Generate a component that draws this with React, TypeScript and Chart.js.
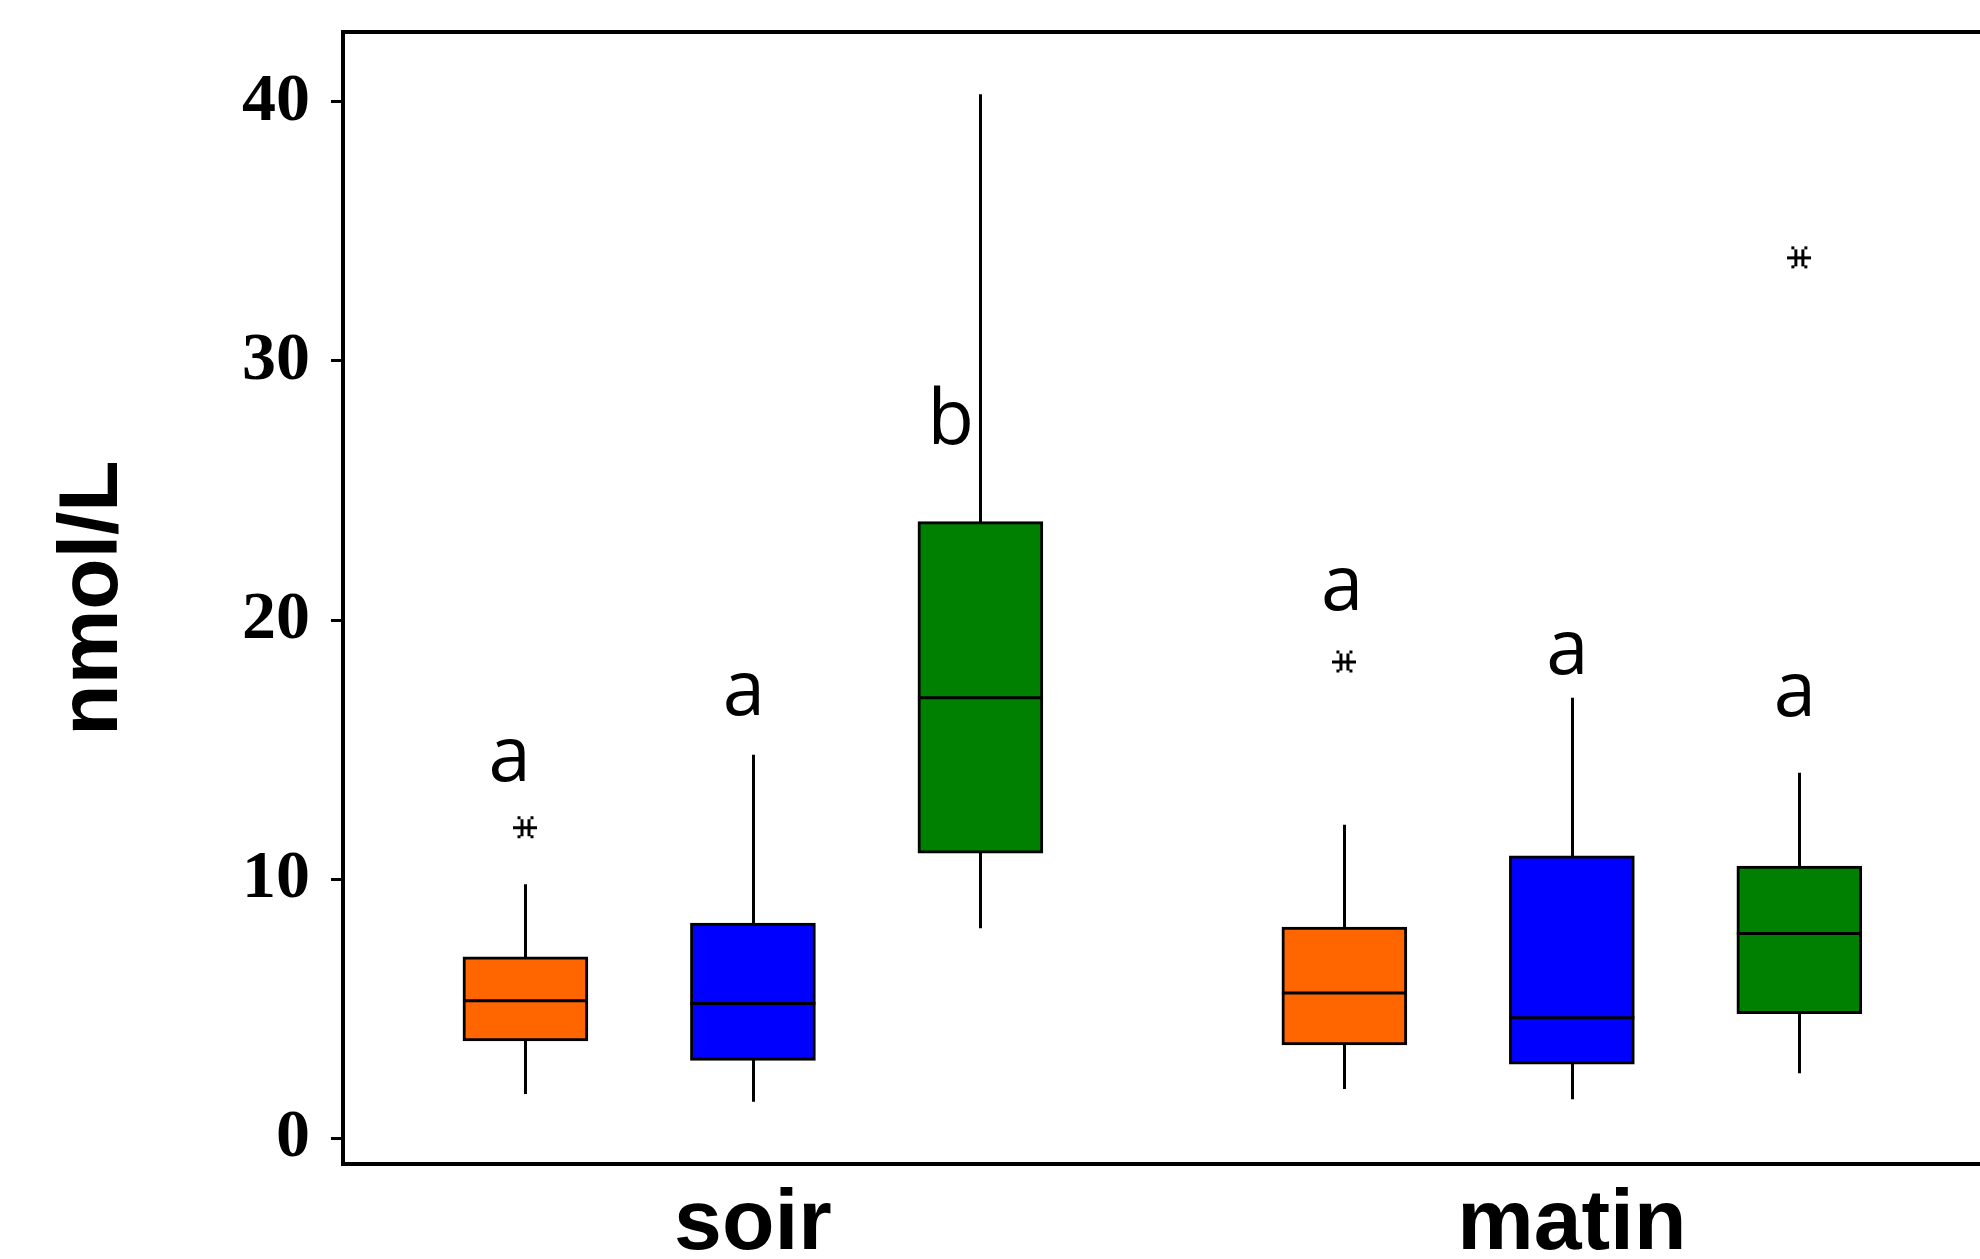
import React, { useEffect, useRef } from 'react';
import { Chart, registerables } from 'chart.js';

Chart.register(...registerables);

// ---- data ----
const categories = ['soir', 'matin'];
const groupCenters = [2, 5.6];
const boxPositions = [1, 2, 3, 4.6, 5.6, 6.6];
const boxColors = ['#FF6600', '#0000FF', '#008000', '#FF6600', '#0000FF', '#008000'];
const whiskerLow = [1.7, 1.4, 8.1, 1.9, 1.5, 2.5];
const quartile1 = [3.75, 3.0, 11.0, 3.6, 2.85, 4.8];
const medians = [5.3, 5.2, 17.0, 5.6, 4.65, 7.9];
const quartile3 = [7.0, 8.3, 23.8, 8.15, 10.9, 10.5];
const whiskerHigh = [9.8, 14.8, 40.3, 12.1, 17.0, 14.1];
const outlierX = [1, 4.6, 6.6];
const outlierY = [12.0, 18.4, 34.0];
const letters = ['a', 'a', 'b', 'a', 'a', 'a'];
const letterX = [0.93, 1.96, 2.87, 4.59, 5.58, 6.58];
const letterY = [13.8, 16.35, 26.8, 20.4, 17.9, 16.3];
const yTicks = [0, 10, 20, 30, 40];
const yTitle = 'nmol/L';
const yMin = -1;
const yMax = 42.7;
const xMin = 0.198;
const xMax = 7.337;

function makeOutlierMarker(): HTMLCanvasElement {
  const c = document.createElement('canvas');
  c.width = 24;
  c.height = 24;
  const g = c.getContext('2d')!;
  g.fillStyle = '#000';
  g.fillRect(0, 11, 24, 3);
  g.fillRect(7, 4, 3, 17);
  g.fillRect(14, 4, 3, 17);
  g.fillRect(4, 1, 3, 3);
  g.fillRect(17, 1, 3, 3);
  g.fillRect(4, 20, 3, 3);
  g.fillRect(17, 20, 3, 3);
  return c;
}

const boxExtras = {
  id: 'boxExtras',
  beforeDatasetsDraw(chart: any) {
    const { ctx, scales } = chart;
    const x = scales.x;
    const y = scales.y;
    ctx.save();
    ctx.strokeStyle = '#000';
    ctx.lineWidth = 3;
    boxPositions.forEach((p, i) => {
      const px = Math.round(x.getPixelForValue(p)) + 0.5;
      ctx.beginPath();
      ctx.moveTo(px, y.getPixelForValue(whiskerLow[i]));
      ctx.lineTo(px, y.getPixelForValue(whiskerHigh[i]));
      ctx.stroke();
    });
    ctx.restore();
  },
  afterDatasetsDraw(chart: any) {
    const { ctx, scales, chartArea } = chart;
    const x = scales.x;
    const y = scales.y;
    const meta = chart.getDatasetMeta(0);
    ctx.save();
    ctx.strokeStyle = '#000';
    ctx.lineWidth = 3;
    meta.data.forEach((bar: any, i: number) => {
      const { x: cx, width } = bar.getProps(['x', 'width'], true);
      const py = y.getPixelForValue(medians[i]);
      ctx.beginPath();
      ctx.moveTo(cx - width / 2, py);
      ctx.lineTo(cx + width / 2, py);
      ctx.stroke();
    });
    // top and bottom frame lines run off the right edge
    ctx.lineWidth = 4;
    ctx.beginPath();
    ctx.moveTo(chartArea.left - 2, chartArea.top);
    ctx.lineTo(chart.width, chartArea.top);
    ctx.moveTo(chartArea.left - 2, chartArea.bottom);
    ctx.lineTo(chart.width, chartArea.bottom);
    ctx.stroke();
    // significance letters
    ctx.fillStyle = '#000';
    ctx.font = '76px "Open Sans"';
    ctx.textAlign = 'center';
    ctx.textBaseline = 'alphabetic';
    letters.forEach((t, i) => {
      ctx.fillText(t, x.getPixelForValue(letterX[i]), y.getPixelForValue(letterY[i]));
    });
    ctx.restore();
  },
};

export default function App() {
  const ref = useRef<HTMLCanvasElement>(null);
  useEffect(() => {
    document.body.style.margin = '0';
    const canvas = ref.current!;
    const marker = makeOutlierMarker();
    const chart = new Chart(canvas, {
      type: 'bar',
      data: {
        datasets: [
          {
            type: 'bar',
            data: boxPositions.map((p, i) => ({ x: p, y: [quartile1[i], quartile3[i]] })) as any,
            backgroundColor: boxColors,
            borderColor: '#000',
            borderWidth: 3,
            borderSkipped: false,
            barThickness: 125,
            grouped: false,
          } as any,
          {
            type: 'scatter',
            data: outlierX.map((v, i) => ({ x: v, y: outlierY[i] })),
            pointStyle: marker,
            pointRadius: 12,
          } as any,
        ],
      },
      options: {
        animation: false,
        responsive: false,
        layout: { padding: { top: 32, right: 0, bottom: 0, left: 0 } },
        plugins: { legend: { display: false }, tooltip: { enabled: false } },
        scales: {
          x: {
            type: 'linear',
            min: xMin,
            max: xMax,
            offset: false,
            grid: { display: false, offset: false },
            border: { display: true, width: 4, color: '#000' },
            afterBuildTicks: (scale: any) => {
              scale.ticks = groupCenters.map((v) => ({ value: v }));
            },
            afterFit: (scale: any) => {
              scale.height = 95;
              scale.paddingLeft = 0;
              scale.paddingRight = 0;
            },
            ticks: {
              autoSkip: false,
              maxRotation: 0,
              padding: 2,
              color: '#000',
              font: { family: '"Liberation Sans", Arial, sans-serif', size: 86, weight: 'bold' },
              callback: (_v: any, i: number) => categories[i],
            },
          },
          y: {
            type: 'linear',
            min: yMin,
            max: yMax,
            grid: { display: true, drawOnChartArea: false, drawTicks: true, tickLength: 12, lineWidth: 3, color: '#000' },
            border: { display: true, width: 4, color: '#000' },
            afterBuildTicks: (scale: any) => {
              scale.ticks = yTicks.map((v) => ({ value: v }));
            },
            afterFit: (scale: any) => {
              scale.width = 343;
              scale.paddingTop = 0;
              scale.paddingBottom = 0;
            },
            ticks: {
              padding: 21,
              color: '#000',
              font: { family: '"Liberation Serif", "Times New Roman", serif', size: 68, weight: 'bold' },
            },
            title: {
              display: true,
              text: yTitle,
              color: '#000',
              padding: { top: 43, bottom: 0 },
              font: { family: '"Liberation Sans", Arial, sans-serif', size: 84, weight: 'bold' },
            },
          },
        },
      } as any,
      plugins: [boxExtras],
    });
    return () => chart.destroy();
  }, []);
  return <canvas ref={ref} width={1980} height={1259} style={{ display: 'block' }} />;
}
